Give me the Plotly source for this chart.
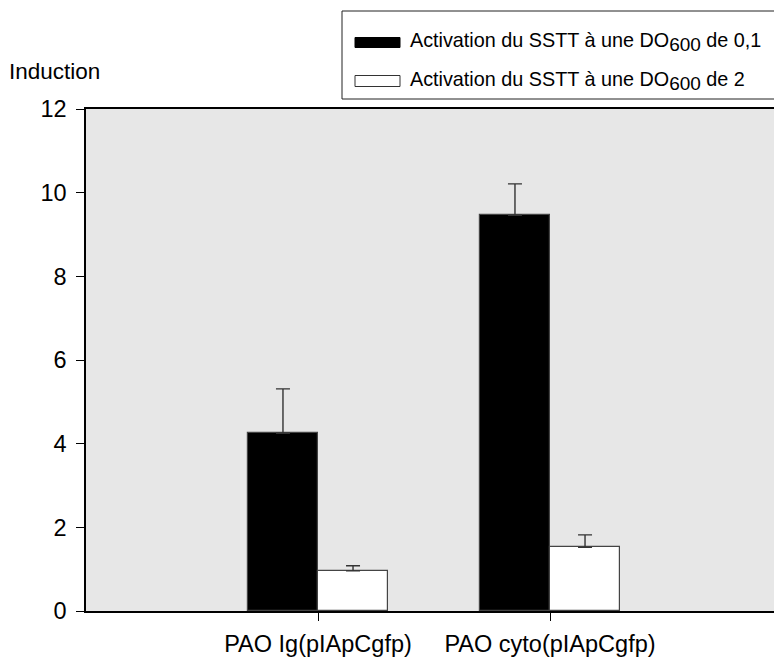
import plotly.graph_objects as go

# Induction values per strain, with upper standard-error bars
categories = ["PAO Ig(pIApCgfp)", "PAO cyto(pIApCgfp)"]
cat_pos = [1, 2]
induction_low_od = [4.25, 9.46]      # SSTT activated at OD600 = 0.1
error_low_od = [1.06, 0.75]
induction_high_od = [0.96, 1.52]     # SSTT activated at OD600 = 2
error_high_od = [0.12, 0.30]

FONT = "Liberation Sans, Arial, sans-serif"
W, H = 774, 657
L, R, T, B = 86, 0, 109, 46
plot_w = W - L - R
plot_h = H - T - B


def px_x(px):
    return (px - L) / plot_w


def px_y(py):
    return (H - B - py) / plot_h


fig = go.Figure()
bar_w = 0.302
err_style = dict(type="data", symmetric=False, arrayminus=[0, 0],
                 color="#333333", thickness=1.4, width=7)
fig.add_trace(go.Bar(
    x=cat_pos, y=induction_low_od, width=bar_w, offset=-bar_w,
    marker=dict(color="black", line=dict(color="#444444", width=1.2)),
    error_y=dict(array=error_low_od, **err_style),
    showlegend=False,
))
fig.add_trace(go.Bar(
    x=cat_pos, y=induction_high_od, width=bar_w, offset=0,
    marker=dict(color="white", line=dict(color="#444444", width=1.2)),
    error_y=dict(array=error_high_od, **err_style),
    showlegend=False,
))

# Legend frame and swatches
shapes = [
    dict(type="rect", xref="paper", yref="paper",
         x0=px_x(342), x1=px_x(800), y0=px_y(99), y1=px_y(11),
         line=dict(color="#222222", width=1), fillcolor="white", layer="above"),
    dict(type="rect", xref="paper", yref="paper",
         x0=px_x(355), x1=px_x(400), y0=px_y(47.5), y1=px_y(37.5),
         line=dict(color="black", width=1), fillcolor="black"),
    dict(type="rect", xref="paper", yref="paper",
         x0=px_x(355), x1=px_x(400), y0=px_y(86.5), y1=px_y(75.5),
         line=dict(color="#333333", width=1), fillcolor="white"),
]

sub = '<sub><span style="font-size:19px">600</span></sub>'
annotations = [
    dict(text="Induction", xref="paper", yref="paper", x=px_x(7), y=px_y(71),
         xanchor="left", yanchor="middle", showarrow=False,
         font=dict(family=FONT, size=22.5, color="black")),
    dict(text="Activation du SSTT à une DO" + sub + " de 0,1", xref="paper", yref="paper",
         x=px_x(408), y=px_y(42), xanchor="left", yanchor="middle", showarrow=False,
         font=dict(family=FONT, size=19.8, color="black")),
    dict(text="Activation du SSTT à une DO" + sub + " de 2", xref="paper", yref="paper",
         x=px_x(408), y=px_y(81), xanchor="left", yanchor="middle", showarrow=False,
         font=dict(family=FONT, size=19.8, color="black")),
]

fig.update_layout(
    width=W, height=H,
    margin=dict(l=L, r=R, t=T, b=B),
    paper_bgcolor="white",
    plot_bgcolor="#e7e7e7",
    font=dict(family=FONT, size=23, color="black"),
    shapes=shapes,
    annotations=annotations,
    bargap=0,
)
fig.update_xaxes(
    range=[0, plot_w / 232.0], tickmode="array", tickvals=cat_pos, ticktext=categories,
    showline=True, linecolor="black", linewidth=1.5, mirror=True,
    ticks="outside", ticklen=8, tickwidth=1.2, tickcolor="black",
    showgrid=False, zeroline=False, tickfont=dict(size=23.5), ticklabelstandoff=3,
)
fig.update_yaxes(
    range=[0, 12], dtick=2, showline=True, linecolor="black", linewidth=1.5,
    ticks="outside", ticklen=8, tickwidth=1.2, tickcolor="black",
    showgrid=False, zeroline=False, tickfont=dict(size=23.5), ticklabelstandoff=5,
)

fig.write_html("out.html")
